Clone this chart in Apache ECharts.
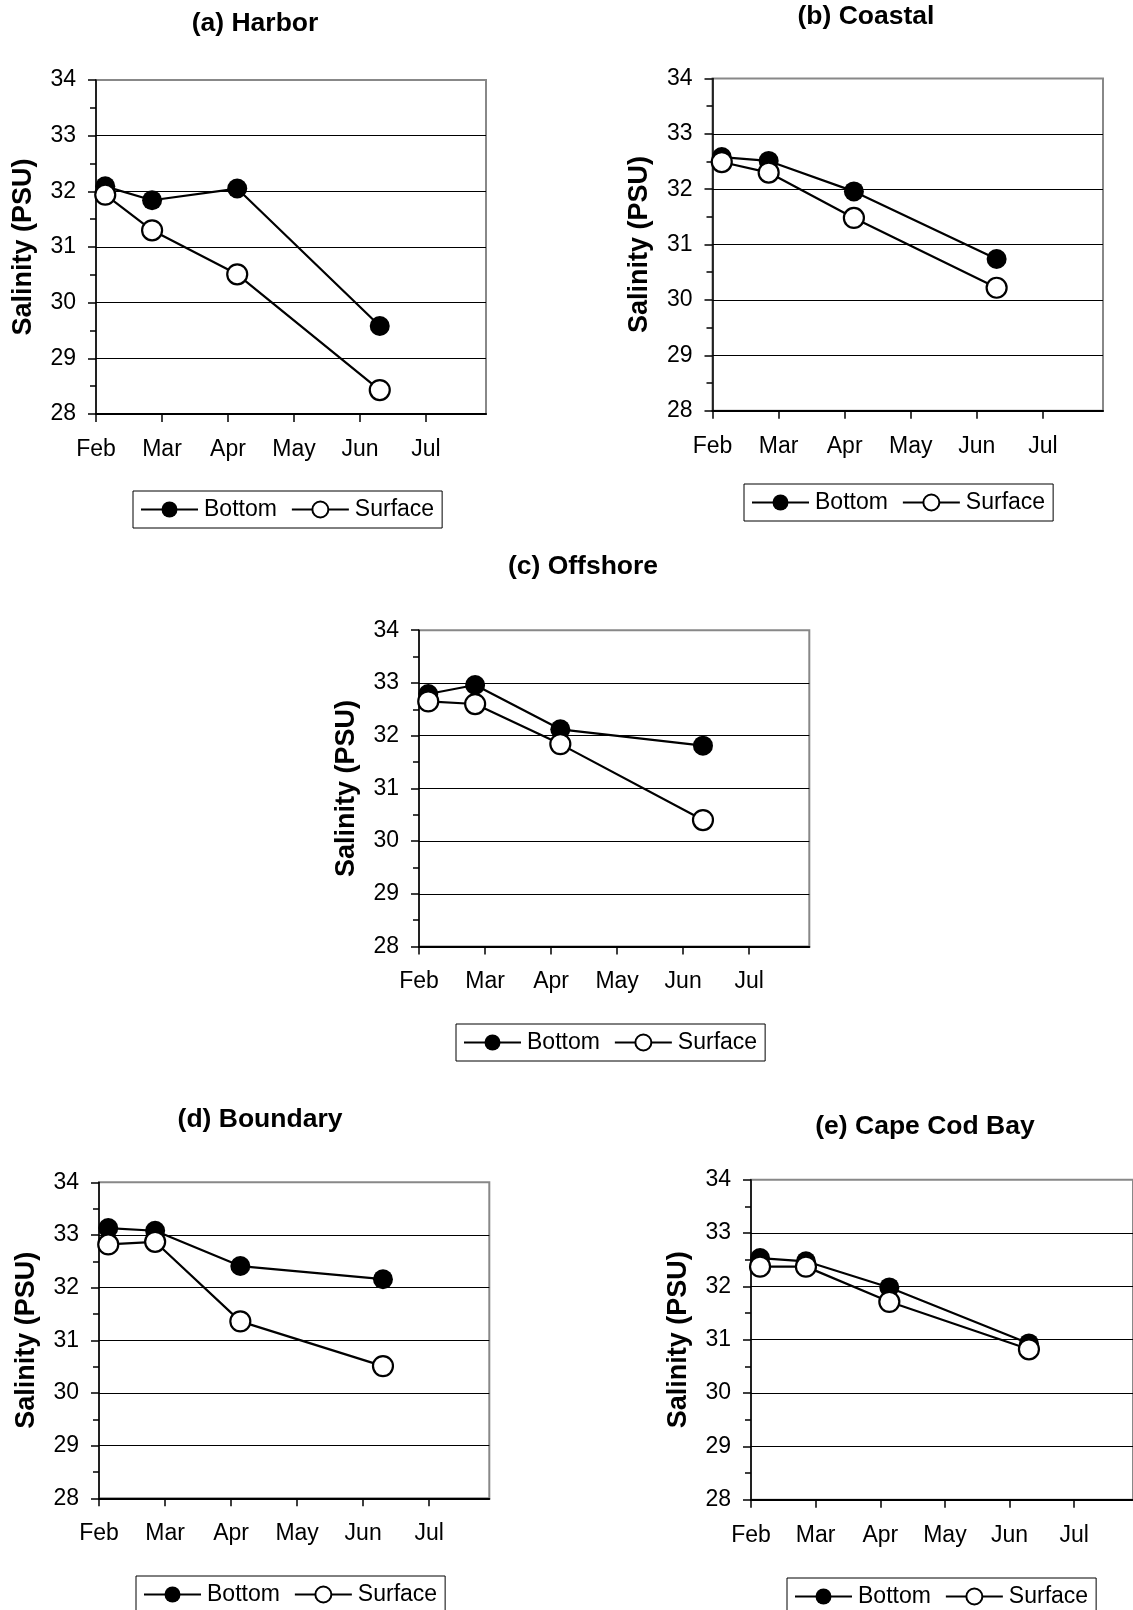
<!DOCTYPE html>
<html>
<head>
<meta charset="utf-8">
<script src="https://cdn.jsdelivr.net/npm/echarts@6/dist/echarts.min.js"></script>
<style>
html,body{margin:0;padding:0;background:#fff;}
#chart{width:1133px;height:1610px;}
</style>
</head>
<body>
<div id="chart"></div>
<script>
// ---- data ----
const months = ['Feb', 'Mar', 'Apr', 'May', 'Jun', 'Jul'];
const monthTicks = [0, 1, 2, 3, 4, 5];
const yTicks = [28, 29, 30, 31, 32, 33, 34];
// sampling times, in months after 1 Feb
const sampleX = [0.14, 0.85, 2.14, 4.30];

const panelTitles = ['(a) Harbor', '(b) Coastal', '(c) Offshore', '(d) Boundary', '(e) Cape Cod Bay'];
const seriesNames = ['Bottom', 'Surface'];

const harborBottom = [32.09, 31.84, 32.05, 29.58];
const harborSurface = [31.94, 31.30, 30.51, 28.43];
const coastalBottom = [32.58, 32.51, 31.96, 30.74];
const coastalSurface = [32.49, 32.30, 31.48, 30.22];
const offshoreBottom = [32.79, 32.96, 32.12, 31.81];
const offshoreSurface = [32.65, 32.60, 31.84, 30.40];
const boundaryBottom = [33.13, 33.08, 32.41, 32.16];
const boundarySurface = [32.82, 32.87, 31.36, 30.51];
const capeBottom = [32.53, 32.47, 31.98, 30.93];
const capeSurface = [32.37, 32.37, 31.71, 30.82];

const bottomData = [harborBottom, coastalBottom, offshoreBottom, boundaryBottom, capeBottom];
const surfaceData = [harborSurface, coastalSurface, offshoreSurface, boundarySurface, capeSurface];

// ---- layout (pixels) ----
const grids = [
  {left: 96,  top: 80,     width: 390, height: 334},
  {left: 712.5, top: 78.4, width: 390.5, height: 332.3},
  {left: 419, top: 630.2,  width: 390.3, height: 316.4},
  {left: 99,  top: 1182.3, width: 390.3, height: 316},
  {left: 751, top: 1179.7, width: 391,   height: 320}
];
const titlePos = [[255, 23.5], [866, 16.5], [583, 566.5], [260, 1120], [925, 1127]];
const legendPos = [[133, 491], [744, 484], [456, 1024], [136, 1576], [787, 1578]];

const FONT = '"Liberation Sans", Arial, Helvetica, sans-serif';
const XMAX = 5.91;

const option = {
  backgroundColor: '#fff',
  animation: false,
  grid: [], xAxis: [], yAxis: [], series: [], legend: [], graphic: []
};

for (let i = 0; i < 5; i++) {
  const g = grids[i];
  option.grid.push({
    left: g.left, top: g.top, width: g.width, height: g.height,
    show: true, borderColor: '#888', borderWidth: 2, backgroundColor: 'transparent'
  });
  option.xAxis.push({
    type: 'value', gridIndex: i, min: 0, max: XMAX,
    axisLine: {show: true, onZero: false, lineStyle: {color: '#000', width: 2}},
    axisTick: {show: true, length: 8, customValues: monthTicks, lineStyle: {color: '#000', width: 1.5}},
    axisLabel: {
      customValues: monthTicks, margin: 24,
      formatter: v => months[Math.round(v)] || '',
      color: '#000', fontSize: 23, fontFamily: FONT
    },
    splitLine: {show: false}
  });
  option.yAxis.push({
    type: 'value', gridIndex: i, min: yTicks[0], max: yTicks[yTicks.length - 1], interval: 1,
    name: 'Salinity (PSU)', nameLocation: 'middle', nameGap: 59,
    nameTextStyle: {fontSize: 27, fontWeight: 'bold', color: '#000', fontFamily: FONT},
    axisLine: {show: true, lineStyle: {color: '#000', width: 1.5}},
    axisTick: {show: true, length: 8, lineStyle: {color: '#000', width: 1.5}},
    minorTick: {show: true, splitNumber: 2, length: 6, lineStyle: {color: '#000', width: 1.5}},
    axisLabel: {margin: 20, color: '#000', fontSize: 23, fontFamily: FONT},
    splitLine: {show: true, showMinLine: false, showMaxLine: false, lineStyle: {color: '#000', width: 1}}
  });
  option.series.push({
    name: seriesNames[0], type: 'line', xAxisIndex: i, yAxisIndex: i,
    data: sampleX.map((x, k) => [x, bottomData[i][k]]),
    symbol: 'circle', symbolSize: 20, z: 3,
    itemStyle: {color: '#000'},
    lineStyle: {color: '#000', width: 2.2}
  });
  option.series.push({
    name: seriesNames[1], type: 'line', xAxisIndex: i, yAxisIndex: i,
    data: sampleX.map((x, k) => [x, surfaceData[i][k]]),
    symbol: 'circle', symbolSize: 20, z: 4,
    itemStyle: {color: '#fff', borderColor: '#000', borderWidth: 2.2},
    lineStyle: {color: '#000', width: 2.2}
  });
  option.legend.push({
    data: seriesNames, left: legendPos[i][0], top: legendPos[i][1],
    orient: 'horizontal', itemWidth: 57, itemHeight: 20, itemGap: 14,
    padding: [7, 8, 7, 7], borderColor: '#000', borderWidth: 1,
    selectedMode: false,
    textStyle: {fontSize: 23, color: '#000', fontFamily: FONT, lineHeight: 23, padding: [0, 0, 0, 1]}
  });
  option.graphic.push({
    type: 'text', x: titlePos[i][0], y: titlePos[i][1],
    style: {
      text: panelTitles[i], fill: '#000',
      font: 'bold 26.5px ' + FONT, textAlign: 'center', textVerticalAlign: 'middle'
    }
  });
}

const chart = echarts.init(document.getElementById('chart'), null, {renderer: 'canvas'});
chart.setOption(option);
</script>
</body>
</html>
